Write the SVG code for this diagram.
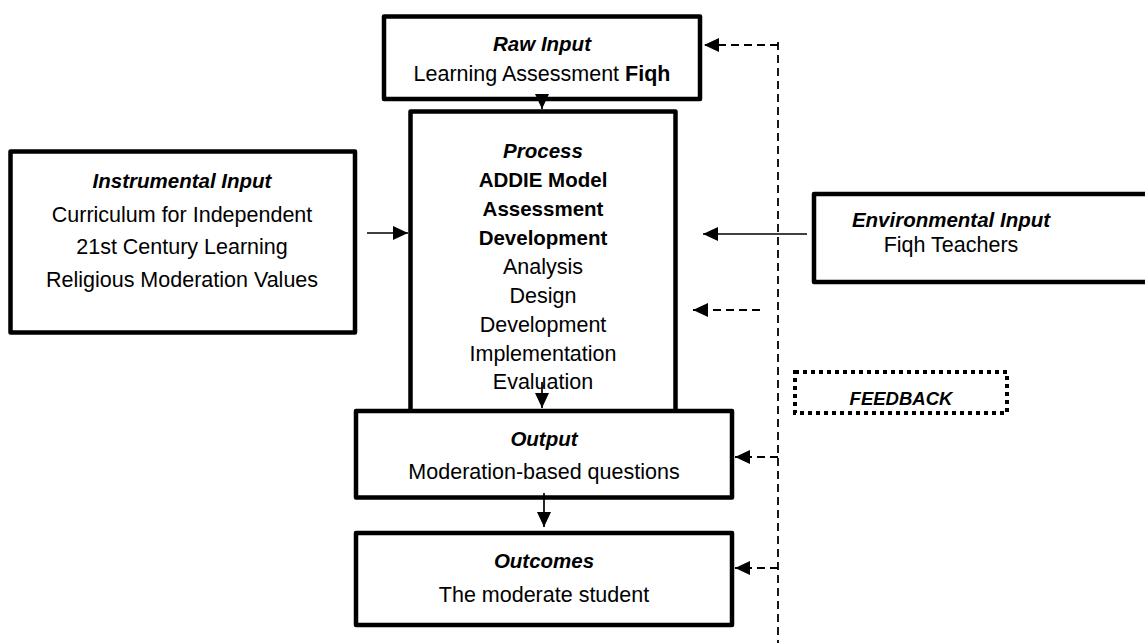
<svg xmlns="http://www.w3.org/2000/svg" width="1145" height="643" viewBox="0 0 1145 643">
<style>
.box{fill:#fff;stroke:#000;stroke-width:4.5;stroke-linejoin:round}
.fb{fill:none;stroke:#000;stroke-width:4;stroke-dasharray:4 4}
text{font-family:"Liberation Sans",Arial,sans-serif;font-size:21.5px;fill:#000;text-anchor:middle}
.t{font-weight:bold;font-style:italic;font-size:20.5px}
.b{font-weight:bold;font-size:20.5px}
.ln{stroke:#000;stroke-width:1.7;fill:none}
.dash{stroke:#000;stroke-width:1.8;fill:none;stroke-dasharray:8 5}
</style>
<defs>
<marker id="ah" markerWidth="16" markerHeight="16" refX="15" refY="7" orient="auto" markerUnits="userSpaceOnUse">
<path d="M0,0 L15,7 L0,14 Z" fill="#000"/>
</marker>
</defs>

<g id="raw-input">
<rect class="box" x="384" y="16.5" width="316" height="82.5"/>
<text x="542" y="51" class="t">Raw Input</text>
<text x="542" y="81">Learning Assessment <tspan font-weight="bold">Fiqh</tspan></text>
</g>

<g id="instrumental-input">
<rect class="box" x="10.5" y="151.5" width="344.5" height="181"/>
<text x="182" y="188" class="t">Instrumental Input</text>
<text x="182" y="222">Curriculum for Independent</text>
<text x="182" y="254">21st Century Learning</text>
<text x="182" y="287">Religious Moderation Values</text>
</g>

<g id="environmental-input">
<rect class="box" x="814" y="194" width="340" height="88"/>
<text x="951" y="227" class="t">Environmental Input</text>
<text x="951" y="252">Fiqh Teachers</text>
</g>

<g id="process">
<path class="box" d="M410.5,411 L410.5,111.5 L675.5,111.5 L675.5,411"/>
<text x="543" y="158" class="t">Process</text>
<text x="543" y="187" class="b">ADDIE Model</text>
<text x="543" y="216" class="b">Assessment</text>
<text x="543" y="245" class="b">Development</text>
<text x="543" y="274">Analysis</text>
<text x="543" y="303">Design</text>
<text x="543" y="332">Development</text>
<text x="543" y="361">Implementation</text>
<text x="543" y="389">Evaluation</text>
</g>

<g id="output">
<rect class="box" x="356" y="411" width="376" height="86.5"/>
<text x="544" y="446" class="t">Output</text>
<text x="544" y="479">Moderation-based questions</text>
</g>

<g id="outcomes">
<rect class="box" x="356" y="533" width="376" height="92"/>
<text x="544" y="568" class="t">Outcomes</text>
<text x="544" y="602">The moderate student</text>
</g>

<g id="feedback">
<rect class="fb" x="795" y="372" width="212" height="41"/>
<text x="901" y="405" class="t" style="font-size:18.5px">FEEDBACK</text>
</g>

<g id="connectors">
<path class="ln" d="M542,99 L542,109" marker-end="url(#ah)"/>
<path class="ln" d="M367,233 L408,233" marker-end="url(#ah)"/>
<path class="ln" d="M807,234 L703,234" marker-end="url(#ah)"/>
<path class="ln" d="M542,382 L542,408" marker-end="url(#ah)"/>
<path class="ln" d="M544,493 L544,527" marker-end="url(#ah)"/>
<path class="dash" d="M778,42 L778,643"/>
<path class="dash" d="M778,45 L704,45" marker-end="url(#ah)"/>
<path class="dash" d="M760,310 L693,310" marker-end="url(#ah)"/>
<path class="dash" d="M778,457 L735,457" marker-end="url(#ah)"/>
<path class="dash" d="M778,568 L735,568" marker-end="url(#ah)"/>
</g>
</svg>
